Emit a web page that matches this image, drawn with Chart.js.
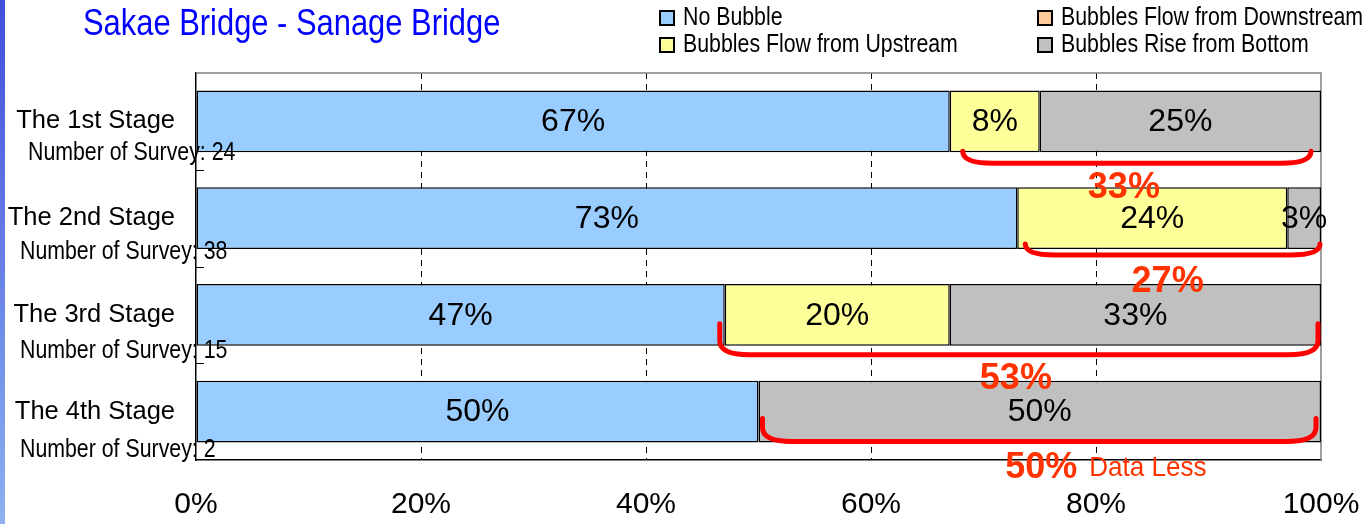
<!DOCTYPE html>
<html><head><meta charset="utf-8">
<script src="https://cdn.jsdelivr.net/npm/chart.js@4.4.1/dist/chart.umd.min.js"></script>
<style>
html,body{margin:0;padding:0;background:#fff;overflow:hidden}
#wrap{position:relative;width:1364px;height:524px}
#stripe{position:absolute;left:0;top:0;width:5px;height:524px;background:linear-gradient(#3f4fdc,#8fb0f0)}
canvas{position:absolute;left:0;top:0}
</style></head><body>
<div id="wrap"><canvas id="c" width="1364" height="524" style="width:1364px;height:524px"></canvas><div id="stripe"></div></div>
<script>
// ---- data ----
const titleText = 'Sakae Bridge - Sanage Bridge';
const stages = ['The 1st Stage', 'The 2nd Stage', 'The 3rd Stage', 'The 4th Stage'];
const surveyCounts = [24, 38, 15, 2];
const seriesNames = ['No Bubble', 'Bubbles Flow from Downstream', 'Bubbles Flow from Upstream', 'Bubbles Rise from Bottom'];
const noBubble = [67, 73, 47, 50];
const fromDownstream = [0, 0, 0, 0];
const fromUpstream = [8, 24, 20, 0];
const riseFromBottom = [25, 3, 33, 50];
const xTicks = [0, 20, 40, 60, 80, 100];
const bracketNotes = ['', '', '', 'Data Less'];

// ---- styles ----
const colors = ['#99CCFF', '#FFCC99', '#FFFF99', '#C0C0C0'];
const FONT = '"Liberation Sans", Arial, sans-serif';
const NARROW = 0.82;
const bracketStyle = [
  {dx0: 13, dx1: -10, up: 1, down: 11, lx: -13, ly: 36},
  {dx0: 8, dx1: -1, up: 5, down: 6, lx: -5, ly: 33},
  {dx0: -5, dx1: -3, up: 22, down: 9, lx: -3, ly: 33},
  {dx0: 4, dx1: -5, up: 24, down: -1, lx: 2, ly: 25}
];

function text(ctx, str, x, y, size, o) {
  o = o || {};
  ctx.save();
  ctx.font = (o.bold ? 'bold ' : '') + size + 'px ' + FONT;
  ctx.fillStyle = o.color || '#000';
  ctx.textBaseline = 'middle';
  ctx.textAlign = o.align || 'left';
  ctx.translate(x, y);
  ctx.scale(o.sx || 1, 1);
  ctx.fillText(str, 0, 0);
  const w = ctx.measureText(str).width * (o.sx || 1);
  ctx.restore();
  return w;
}

const overlay = {
  id: 'overlay',
  beforeDatasetsDraw(chart) {
    const {ctx, chartArea: a} = chart;
    const y = chart.scales.y;
    ctx.save();
    ctx.strokeStyle = '#808080';
    ctx.lineWidth = 1.5;
    ctx.beginPath();
    ctx.moveTo(a.left, a.top);
    ctx.lineTo(a.right, a.top);
    ctx.lineTo(a.right, a.bottom);
    ctx.stroke();
    ctx.strokeStyle = '#000';
    ctx.lineWidth = 1;
    for (let i = 0; i < stages.length - 1; i++) {
      const yy = Math.round((y.getPixelForValue(i) + y.getPixelForValue(i + 1)) / 2) + 0.5;
      ctx.beginPath();
      ctx.moveTo(a.left, yy);
      ctx.lineTo(a.left + 8, yy);
      ctx.stroke();
    }
    ctx.restore();
  },
  afterDatasetsDraw(chart) {
    const ctx = chart.ctx;
    chart.data.datasets.forEach((ds, di) => {
      const meta = chart.getDatasetMeta(di);
      meta.data.forEach((el, i) => {
        const v = ds.data[i];
        if (!v) return;
        text(ctx, v + '%', (el.x + el.base) / 2, el.y + 1, 32, {align: 'center'});
      });
    });
  },
  afterDraw(chart) {
    const {ctx, chartArea: a} = chart;
    const x = chart.scales.x, y = chart.scales.y;
    // title
    text(ctx, titleText, 83, 25, 37, {color: '#0000FF', sx: 0.835});
    // legend
    const cols = [660, 1038], rows = [18, 45];
    chart.data.datasets.forEach((ds, i) => {
      const lx = cols[i % 2], ly = rows[Math.floor(i / 2)];
      ctx.save();
      ctx.fillStyle = ds.backgroundColor;
      ctx.fillRect(lx, ly - 7, 14, 14);
      ctx.strokeStyle = '#000';
      ctx.lineWidth = 2;
      ctx.strokeRect(lx, ly - 7, 14, 14);
      ctx.restore();
      text(ctx, ds.label, lx + 23, ly, 26, {sx: NARROW});
    });
    // survey counts
    surveyCounts.forEach((n, i) => {
      const yc = y.getPixelForValue(i) + 31 + 2.5 * i;
      text(ctx, 'Number of Survey: ' + n, i === 0 ? 28 : 20, yc, 26, {sx: NARROW});
    });
    // brackets
    const bottomMeta = chart.getDatasetMeta(3);
    stages.forEach((s, i) => {
      const st = bracketStyle[i];
      const el = bottomMeta.data[i];
      const barBottom = el.y + el.height / 2;
      const x0 = x.getPixelForValue(noBubble[i] + fromDownstream[i]) + st.dx0;
      const x1 = x.getPixelForValue(100) + st.dx1;
      const yt = barBottom - st.up, yb = barBottom + st.down;
      const rx = 30, ry = Math.min(14, yb - yt);
      ctx.save();
      ctx.strokeStyle = '#FF0000';
      ctx.lineWidth = 5;
      ctx.lineCap = 'round';
      ctx.lineJoin = 'round';
      ctx.beginPath();
      ctx.moveTo(x0, yt);
      ctx.lineTo(x0, yb - ry);
      ctx.quadraticCurveTo(x0, yb, x0 + rx, yb);
      ctx.lineTo(x1 - rx, yb);
      ctx.quadraticCurveTo(x1, yb, x1, yb - ry);
      ctx.lineTo(x1, yt);
      ctx.stroke();
      ctx.restore();
      const total = fromUpstream[i] + fromDownstream[i] + riseFromBottom[i];
      const cx = (x0 + x1) / 2 + st.lx, cy = barBottom + st.ly;
      text(ctx, total + '%', cx, cy, 36, {bold: true, align: 'center', color: '#FF3300'});
      if (bracketNotes[i]) {
        ctx.save();
        ctx.font = 'bold 36px ' + FONT;
        const w = ctx.measureText(total + '%').width;
        ctx.restore();
        text(ctx, bracketNotes[i], cx + w / 2 + 12, cy + 1, 28, {color: '#FF3300', sx: 0.93});
      }
    });
  }
};

const datasets = [noBubble, fromDownstream, fromUpstream, riseFromBottom].map((d, i) => ({
  label: seriesNames[i],
  data: d,
  backgroundColor: colors[i],
  borderColor: '#000',
  borderWidth: 1.5,
  borderSkipped: false,
  barPercentage: 0.64,
  categoryPercentage: 1
}));

new Chart(document.getElementById('c'), {
  type: 'bar',
  data: {labels: stages, datasets},
  options: {
    indexAxis: 'y',
    responsive: false,
    animation: false,
    devicePixelRatio: 1,
    layout: {padding: {top: 73, right: 43, left: 0, bottom: 0}},
    plugins: {legend: {display: false}, title: {display: false}, tooltip: {enabled: false}},
    scales: {
      x: {
        stacked: true, min: 0, max: 100,
        afterBuildTicks: s => { s.ticks = xTicks.map(v => ({value: v})); },
        afterFit: s => { s.height = 64; s.paddingLeft = 0; s.paddingRight = 0; },
        ticks: {callback: v => v + '%', color: '#000', font: {size: 30, family: FONT}, padding: 27, maxRotation: 0, autoSkip: false},
        grid: {
          drawTicks: false,
          color: c => (c.tick && (c.tick.value === 0 || c.tick.value === 100)) ? 'rgba(0,0,0,0)' : '#000',
          lineWidth: 1
        },
        border: {display: true, color: '#000', width: 1.5, dash: [6, 5]}
      },
      y: {
        stacked: true,
        afterFit: s => { s.width = 196; s.paddingTop = 0; s.paddingBottom = 0; },
        ticks: {color: '#000', font: {size: 25.5, family: FONT}, padding: 21},
        grid: {display: false, drawTicks: false},
        border: {display: true, color: '#000', width: 1.5}
      }
    }
  },
  plugins: [overlay]
});
</script>
</body></html>
